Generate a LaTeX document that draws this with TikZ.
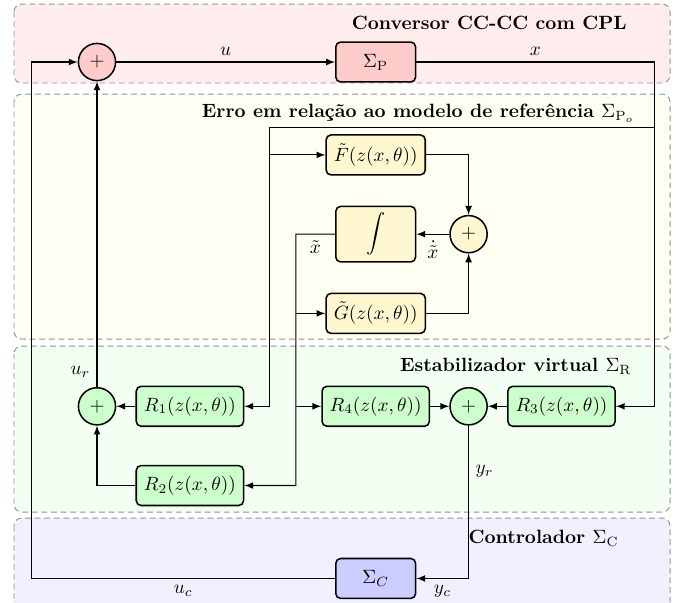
\documentclass[tikz,border=0pt]{standalone}
\usepackage{amsmath}
\usepackage{tikz}
\usetikzlibrary{backgrounds}

\definecolor{yelbox}{RGB}{255,247,208}

\tikzset{
  block/.style={draw, thick, rounded corners=2.5pt, minimum height=0.73cm, inner xsep=4pt},
  sumnode/.style={draw, thick, circle, minimum size=0.68cm, inner sep=0pt},
  zone/.style={draw=gray!85, line width=0.5pt, dash pattern=on 3pt off 2pt, rounded corners=4pt},
  zonetitle/.style={anchor=east, font=\bfseries},
}

\begin{document}
\begin{tikzpicture}[>=latex, node distance=1.7cm, semithick]
      \useasboundingbox (-1.775,1.135) rectangle (10.632,-9.882);

      \node[sumnode, fill=red!20] (s1) {$+$};
      \node[block, fill=red!20, minimum width=1.46cm, right of=s1, xshift=3.4cm] (P) {$\Sigma_{\mathrm{P}}$};
      \node[block, fill=yelbox, below of=P] (F) {$\tilde{F}(z(x,\theta))$};
      \node[block, fill=yelbox, minimum width=1.46cm, minimum height=0.99cm, below of=F, yshift=0.25cm] (I) {$\displaystyle\int$};
      \node[sumnode, fill=yelbox, right of=I] (s3) {$+$};
      \node[block, fill=yelbox, below of=I, yshift=0.25cm] (G) {$\tilde{G}(z(x,\theta))$};
      \node[sumnode, fill=green!20, below of=s1, yshift=-4.6cm] (sR) {$+$};
      \node[block, fill=green!20, right of=sR] (R1) {$R_1(z(x,\theta))$};
      \node[block, fill=green!20, below of=R1, yshift=0.25cm] (R2) {$R_2(z(x,\theta))$};
      \node[block, fill=green!20, right of=R1, xshift=1.7cm] (R4) {$R_4(z(x,\theta))$};
      \node[sumnode, fill=green!20, right of=R4] (s2) {$+$};
      \node[block, fill=green!20, right of=s2] (R3) {$R_3(z(x,\theta))$};
      \node[block, fill=blue!20, minimum width=1.46cm, below of=R4, yshift=-1.45cm] (C) {$\Sigma_C$};

      \coordinate[right of=P, xshift=3.4cm] (xe);
      \coordinate[left of=s1, xshift=0.5cm] (ul);
      \coordinate (b1) at (3.15,-1.2);
      \coordinate (b2) at (3.64,-3.15);

      \node[zonetitle] (tP) at (9.82,0.714) {Conversor CC-CC com CPL};
      \node[zonetitle] (tE) at (9.96,-0.942) {Erro em relação ao modelo de referência $\Sigma_{\mathrm{P}_o}$};
      \node[zonetitle] (tR) at (9.91,-5.563) {Estabilizador virtual $\Sigma_{\mathrm{R}}$};
      \node[zonetitle] (tC) at (9.67,-8.711) {Controlador $\Sigma_{\mathrm{C}}$};

      \draw[->] (s1) -- node[above] {$u$} (P);
      \draw[->] (P) -- node[above] {$x$} (xe) |- (R3);
      \draw[->] (xe |- b1) -- (b1) |- (R1);
      \draw[->] (b1 |- F) -- (F);
      \draw[->] (F) -| (s3);
      \draw[->] (G) -| (s3);
      \draw[->] (s3) -- node[below] {$\dot{\tilde{x}}$} (I);
      \draw[->] (I) -- node[below] {$\tilde{x}$} (b2) |- (R2);
      \draw[->] (b2 |- G) -- (G);
      \draw[->] (b2 |- R4) -- (R4);
      \draw[->] (R1) -- (sR);
      \draw[->] (R2) -| (sR);
      \draw[->] (sR) -- node[pos=0.05, left] {$u_r$} (s1);
      \draw[->] (R4) -- (s2);
      \draw[->] (R3) -- (s2);
      \draw[->] (s2) |- node[pos=0.15, right] {$y_r$} node[pos=0.75, below] {$y_c$} (C);
      \draw[->] (C) -| node[pos=0.25, below] {$u_c$} (ul) -- (s1);

      \begin{scope}[on background layer]
        \draw[zone, fill=red!7] (-1.519,1.061) rectangle (10.486,-0.384);
        \draw[zone, fill=yellow!5] (-1.519,-0.586) rectangle (10.486,-5.069);
        \draw[zone, fill=green!5] (-1.519,-5.197) rectangle (10.486,-8.235);
        \draw[zone, fill=blue!6] (-1.519,-8.345) rectangle (10.486,-10.1);
      \end{scope}
    \end{tikzpicture}
\end{document}
